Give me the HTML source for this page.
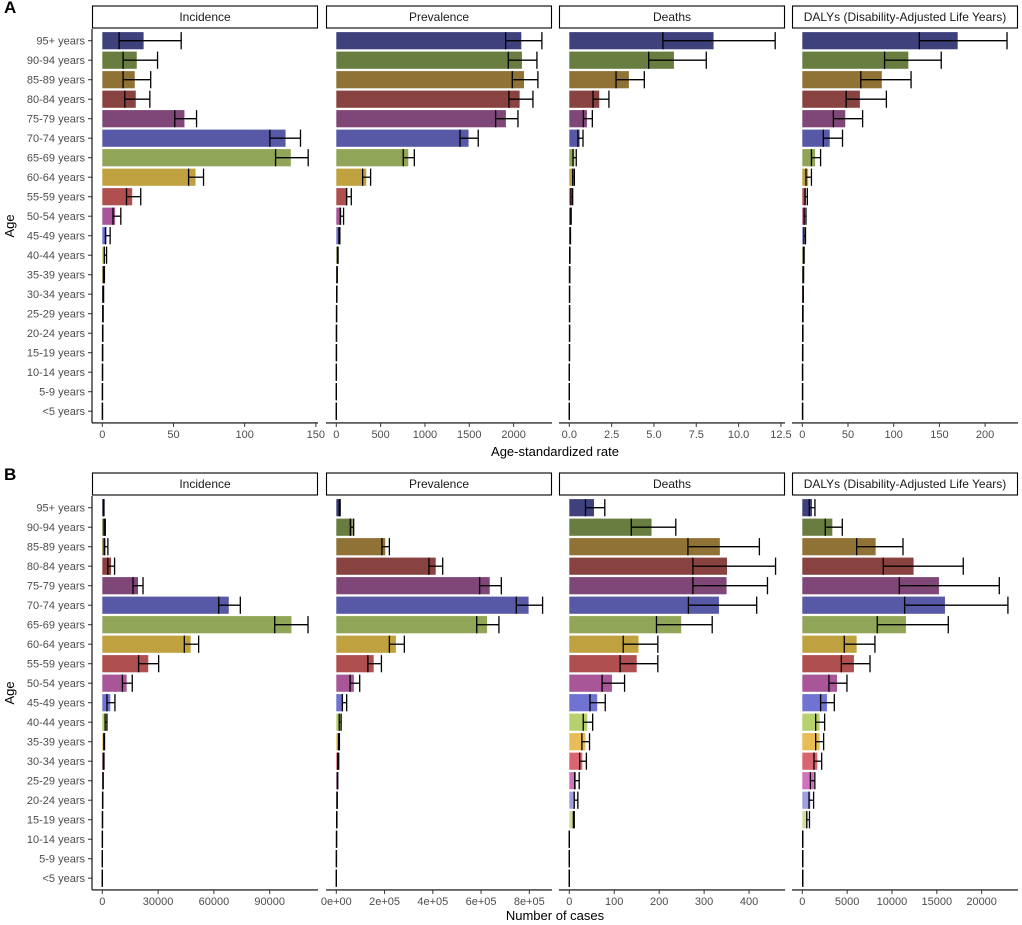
<!DOCTYPE html>
<html><head><meta charset="utf-8"><style>
html,body{margin:0;padding:0;background:#fff;}
svg{display:block;font-family:"Liberation Sans",Arial,sans-serif;}
</style></head><body>
<svg id="chart" width="1022" height="925" viewBox="0 0 1022 925" xmlns="http://www.w3.org/2000/svg"></svg>
<script>
const ages = ["95+ years","90-94 years","85-89 years","80-84 years","75-79 years","70-74 years","65-69 years","60-64 years","55-59 years","50-54 years","45-49 years","40-44 years","35-39 years","30-34 years","25-29 years","20-24 years","15-19 years","10-14 years","5-9 years","<5 years"];
const colors = ["#393b79","#637939","#8c6d31","#843c39","#7b4173","#5254a3","#8ca252","#bd9e39","#ad494a","#a55194","#6b6ecf","#b5cf6b","#e7ba52","#d6616b","#ce6dbd","#9c9ede","#cedb9c","#e7cb94","#e7969c","#de9ed6"];
const measures = ["Incidence","Prevalence","Deaths","DALYs (Disability-Adjusted Life Years)"];

// Panel A: age-standardized rate
const aIncVal = [29,24.2,22.8,23.5,57.7,128.7,132.4,65.5,21,9,3,2,1,0.6,0.4,0.3,0.2,0.1,0.1,0.1];
const aIncLo  = [11.8,14.6,14.6,15.8,50.9,117.7,121.7,60.6,17,7.5,2.2,1.4,0.7,0.4,0.3,0.2,0.1,0.1,0.05,0.05];
const aIncHi  = [55.4,38.8,34,33.4,66.2,139.2,144.6,71.1,27,13,5.5,3,1.5,0.9,0.6,0.4,0.3,0.2,0.15,0.15];
const aPrevVal = [2087,2094,2117,2068,1913,1492,812,338,124,56,34,15,8,5,3,2,1,1,0.5,0.3];
const aPrevLo  = [1910,1940,1985,1947,1797,1395,755,297,116,45,30,12,6,4,2,1,1,0.5,0.3,0.2];
const aPrevHi  = [2319,2263,2274,2218,2049,1601,880,387,169,82,40,20,11,7,4,3,2,1,0.7,0.4];
const aDeathVal = [8.52,6.18,3.52,1.77,1.04,0.61,0.3,0.28,0.15,0.08,0.05,0.03,0.02,0.02,0.01,0.01,0.01,0,0,0];
const aDeathLo  = [5.53,4.69,2.76,1.40,0.83,0.51,0.22,0.2,0.1,0.06,0.04,0.02,0.01,0.01,0.01,0.01,0.01,0,0,0];
const aDeathHi  = [12.16,8.09,4.43,2.34,1.36,0.81,0.41,0.3,0.2,0.11,0.07,0.04,0.03,0.02,0.02,0.02,0.01,0,0,0];
const aDalyVal = [170,116,87,63,47,30,14,6.5,4,3,2.5,1.5,1,0.8,0.6,0.5,0.4,0.3,0.3,0.3];
const aDalyLo  = [128,90,64,48,34,23,10,4,3,2,1.8,1.1,0.7,0.6,0.4,0.4,0.3,0.2,0.2,0.2];
const aDalyHi  = [224,152,119,92,66,44,20,10,5.5,4,3.5,2,1.4,1.1,0.8,0.7,0.6,0.4,0.4,0.4];

// Panel B: number of cases
const bIncVal = [700,1300,1800,4700,19200,68000,101700,47500,24700,13100,4300,2200,1000,700,400,200,100,50,20,10];
const bIncLo  = [500,1000,1100,3000,16500,62600,92700,44100,19500,10800,2500,1500,800,500,300,150,80,40,15,8];
const bIncHi  = [900,1600,3000,6600,21900,74200,110600,51800,30300,16100,6800,2500,1200,900,500,250,120,60,25,12];
const bPrevVal = [15000,68000,203000,412000,636000,797000,625000,247000,155000,73000,28000,18000,11000,8000,5000,3000,2000,1000,500,200];
const bPrevLo  = [12000,58000,189000,384000,594000,746000,582000,220000,131000,57000,25000,12000,9000,6000,4000,2500,1500,800,400,150];
const bPrevHi  = [16000,72000,220000,441000,684000,855000,674000,282000,187000,97000,43000,20000,13000,10000,6000,4000,2500,1200,600,250];
const bDeathVal = [55,183,335,351,350,333,249,154,150,95,62,40,36,29,15,12,12,0,0,0];
const bDeathLo  = [36,138,264,275,275,265,194,120,113,73,46,31,28,23,12,11,9,0,0,0];
const bDeathHi  = [79,237,423,459,441,417,318,197,197,123,80,52,45,38,22,19,11,0,0,0];
const bDalyVal = [1080,3350,8180,12410,15240,15910,11560,6060,5760,3870,2750,1930,1930,1670,1300,900,600,50,50,50];
const bDalyLo  = [780,2560,6060,9030,10820,11410,8360,4680,4350,2970,2040,1490,1490,1300,900,750,500,40,40,40];
const bDalyHi  = [1410,4460,11230,17950,21970,22930,16280,8100,7550,4980,3570,2490,2380,2160,1400,1260,800,60,60,60];

// Axis domains (max value at panel right edge) and tick labels
const aDomainMax = [151.5, 2433, 12.74, 236];
const bDomainMax = [115968, 894000, 480, 24055];
const aTicks = [[0,50,100,150],[0,500,1000,1500,2000],[0,2.5,5,7.5,10,12.5],[0,50,100,150,200]];
const aTickLabels = [["0","50","100","150"],["0","500","1000","1500","2000"],["0.0","2.5","5.0","7.5","10.0","12.5"],["0","50","100","150","200"]];
const bTicks = [[0,30000,60000,90000],[0,200000,400000,600000,800000],[0,100,200,300,400],[0,5000,10000,15000,20000]];
const bTickLabels = [["0","30000","60000","90000"],["0e+00","2e+05","4e+05","6e+05","8e+05"],["0","100","200","300","400"],["0","5000","10000","15000","20000"]];

const NS = "http://www.w3.org/2000/svg";
const svg = document.getElementById("chart");
function mk(tag, attrs, parent, text){
  const e = document.createElementNS(NS, tag);
  for (const k in attrs) e.setAttribute(k, attrs[k]);
  if (text !== undefined) e.textContent = text;
  (parent || svg).appendChild(e);
  return e;
}
const panelLefts = [92,326,559,792];
const panelW = 226;
const zeroOff = 10.3;
const pitch = 19.5;

function drawBlock(label, top, data, domMax, ticks, tickLabels, xTitle, xTitleY, blockName){
  const g = mk("g", {});
  
  
  const bottom = top + pitch * 20.2;
  const lt = mk("text", {x:4, y:top-16, "font-size":17, "font-weight":"bold", fill:"#000"}, g, label);
  
  
  const yt = mk("text", {x:0, y:0, "font-size":13, fill:"#000", "text-anchor":"middle", transform:"translate(14," + ((top+bottom)/2) + ") rotate(-90)"}, g, "Age");
  
  
  ages.forEach((a, i) => {
    const cy = top + (0.6 + i) * pitch;
    const t = mk("text", {x:85, y:cy+4, "font-size":11, fill:"#4d4d4d", "text-anchor":"end"}, g, a);
    
    
    mk("line", {x1:88, x2:92, y1:cy, y2:cy, stroke:"#333", "stroke-width":1}, g);
  });
  mk("line", {x1:92, x2:92, y1:top, y2:bottom, stroke:"#000", "stroke-width":1.1}, g);
  for (let p = 0; p < 4; p++){
    const L = panelLefts[p];
    const scale = (panelW - zeroOff) / domMax[p];
    const xs = v => L + zeroOff + v * scale;
    const st = mk("rect", {x:L+0.5, y:top-23, width:panelW-1, height:22, fill:"#fff", stroke:"#000", "stroke-width":1.1}, g);
    
    
    const stt = mk("text", {x:L+panelW/2, y:top-8, "font-size":12, fill:"#1a1a1a", "text-anchor":"middle"}, g, measures[p]);
    
    
    const [vals, los, his] = data[p];
    vals.forEach((v, i) => {
      const cy = top + (0.6 + i) * pitch;
      const bw = Math.max(0, xs(v) - xs(0));
      const r = mk("rect", {x:xs(0), y:cy-8.6, width:bw, height:17.2, fill:colors[i], "fill-opacity":0.97}, g);
      
      
      const x1 = xs(los[i]), x2 = xs(his[i]);
      const eg = mk("g", {stroke:"#000", "stroke-width":1.3}, g);
      
      
      mk("line", {x1:x1, x2:x2, y1:cy, y2:cy}, eg);
      mk("line", {x1:x1, x2:x1, y1:cy-8.6, y2:cy+8.6}, eg);
      mk("line", {x1:x2, x2:x2, y1:cy-8.6, y2:cy+8.6}, eg);
    });
    mk("line", {x1:L, x2:L+panelW, y1:bottom, y2:bottom, stroke:"#000", "stroke-width":1.1}, g);
    ticks[p].forEach((t, k) => {
      const x = xs(t);
      mk("line", {x1:x, x2:x, y1:bottom, y2:bottom+4, stroke:"#333"}, g);
      const tl = mk("text", {x:x, y:bottom+15, "font-size":11, fill:"#4d4d4d", "text-anchor":"middle"}, g, tickLabels[p][k]);
      
      
    });
  }
  const xt = mk("text", {x:555, y:xTitleY, "font-size":13, fill:"#000", "text-anchor":"middle"}, g, xTitle);
  
  
}

drawBlock("A", 29, [[aIncVal,aIncLo,aIncHi],[aPrevVal,aPrevLo,aPrevHi],[aDeathVal,aDeathLo,aDeathHi],[aDalyVal,aDalyLo,aDalyHi]], aDomainMax, aTicks, aTickLabels, "Age-standardized rate", 456, "panel-a-rates");
drawBlock("B", 496, [[bIncVal,bIncLo,bIncHi],[bPrevVal,bPrevLo,bPrevHi],[bDeathVal,bDeathLo,bDeathHi],[bDalyVal,bDalyLo,bDalyHi]], bDomainMax, bTicks, bTickLabels, "Number of cases", 920, "panel-b-cases");
</script>
</body></html>
